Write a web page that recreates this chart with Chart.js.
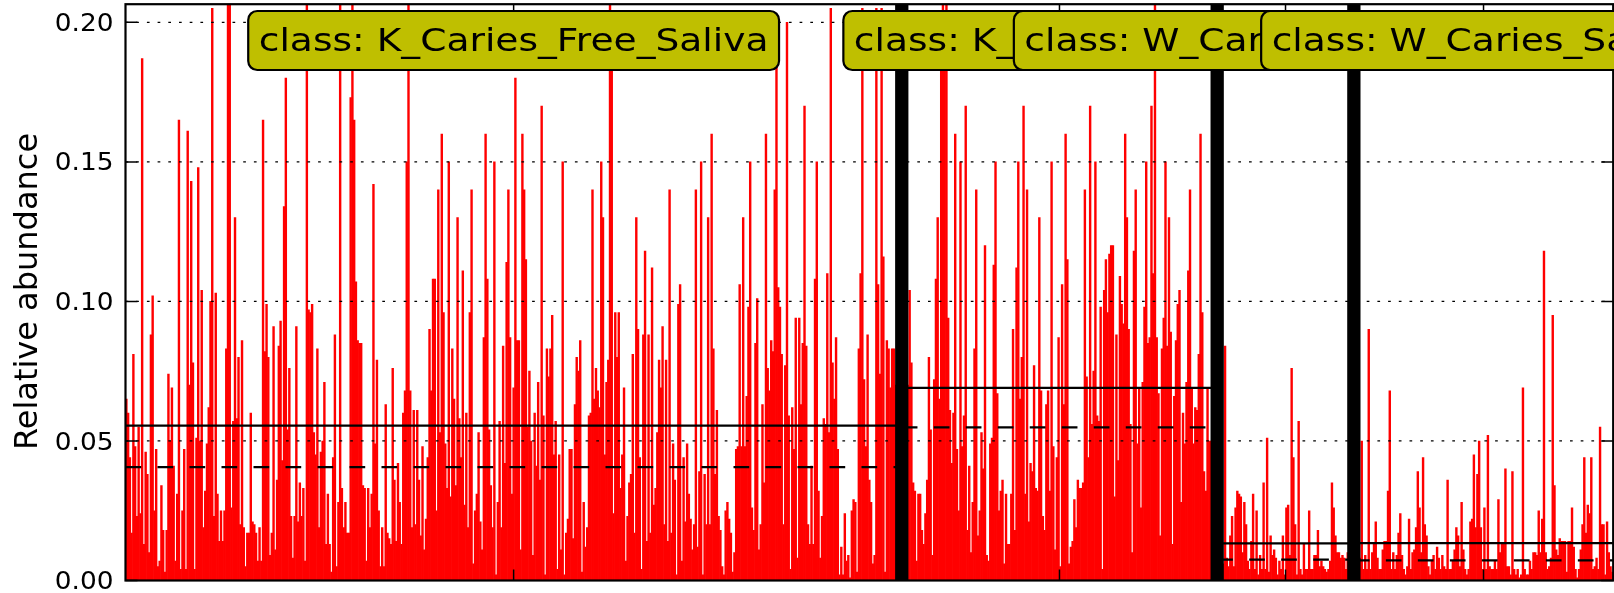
<!DOCTYPE html>
<html>
<head>
<meta charset="utf-8">
<script src="https://cdn.jsdelivr.net/npm/chart.js@4.4.0/dist/chart.umd.min.js"></script>
<style>
  html, body { margin: 0; padding: 0; background: #fff; }
  #wrap { width: 1614px; height: 593px; }
</style>
</head>
<body>
<div id="wrap"><canvas id="dataChart" width="1614" height="593"></canvas></div>
<script>
// class names, one box each
const classNames = ['K_Caries_Free_Saliva', 'K_Caries_Saliva', 'W_Caries_Free_Saliva', 'W_Caries_Saliva'];

// relative abundance per sample
const kCariesFreeSaliva = [
  .065,.060,.044,.017,.081,.048,.023,.055,.024,.187,
  .013,.046,.038,.010,.088,.102,.025,.047,.005,.007,
  .034,.018,.003,.018,.074,.050,.069,.041,.007,.031,
  .165,.004,.025,.047,.004,.161,.070,.143,.078,.004,
  .051,.148,.050,.104,.019,.032,.049,.062,.100,.205,
  .023,.103,.031,.014,.025,.014,.025,.083,.210,.210,
  .026,.057,.130,.058,.080,.020,.086,.019,.005,.017,
  .017,.060,.021,.020,.017,.007,.019,.007,.165,.082,
  .099,.080,.009,.017,.091,.011,.036,.084,.093,.043,
  .134,.180,.054,.076,.023,.008,.023,.091,.021,.035,
  .023,.033,.007,.210,.097,.096,.099,.053,.045,.083,
  .019,.046,.050,.071,.013,.031,.013,.003,.044,.088,
  .005,.028,.210,.033,.019,.028,.017,.017,.173,.210,
  .165,.107,.086,.085,.085,.034,.033,.007,.033,.019,
  .031,.142,.049,.079,.025,.005,.019,.005,.063,.017,
  .015,.013,.076,.036,.014,.042,.028,.013,.060,.068,
  .150,.210,.068,.019,.061,.020,
  .061,.036,.016,.048,.011,.022,.044,.090,.068,.108,
  .108,.025,.140,.053,.160,.096,.049,.033,.150,.030,
  .083,.065,.034,.130,.058,.044,.111,.027,.060,.019,
  .096,.140,.006,.025,.031,.053,.021,.011,.087,.160,
  .108,.054,.034,.019,.150,.002,.028,.057,.019,.084,
  .042,.114,.140,.087,.031,.069,.180,.086,.086,.011,
  .160,.140,.115,.055,.075,.050,.009,.060,.041,.071,
  .036,.170,.059,.002,.083,.073,.083,.095,.045,.057,
  .004,.045,.011,.150,.002,.017,.022,.047,.047,.015,
  .063,.080,.075,.086,.003,.028,.012,.019,.059,.060,
  .140,.065,.076,.068,.062,.150,.130,.045,.071,.079,
  .210,.190,.024,.096,.080,.096,.033,.045,.069,.007,
  .023,.035,.038,.081,.017,.130,.090,.044,.004,.088,
  .118,.014,.088,.017,.112,.027,.033,.053,.079,.069,
  .091,.020,.079,.014,.140,.017,.049,.036,.002,.099,
  .106,.007,.044,.021,.049,.031,.022,.011,.020,.140,
  .012,.039,.150,.002,.038,.020,.130,.020,.160,.083,
  .038,.061,.023,.018,.005,.002,.025,.028,.022,.017,
  .003,.010,.047,.048,.106,.048,.130,.048,.066,.098,
  .150,.026,.018,.085,.101,.011,.020,.063,.035,.160,
  .076,.068,.086,.082,.140,.185,.105,.098,.081,.020,
  .077,.200,.059,.004,.062,.047,.094,.008,.094,.063,
  .085,.170,.084,.020,.013,.041,.013,.108,.150,.032,
  .008,.023,.058,.056,.110,.053,.205,.078,.065,.087,
  .047,.002,.012,.002,.024,.007,.009,.001,.025,.029,
  .028,.003,.083,.110,.205,.072,.048,.088,.036,.028,
  .006,.009,.205,.106,.074,.205,.116,.003,.086,.083,
  .069,.083,.083,.070,.090,.050,.080
];
const kCariesSaliva = [
  .060,.080,.050,.070,
  .104,.078,.035,.032,.007,.031,.031,.018,.013,.024,
  .036,.080,.054,.009,.072,.108,.130,.065,.190,.210,
  .190,.210,.094,.061,.042,.060,.160,.047,.025,.150,
  .048,.059,.170,.018,.041,.010,.028,.083,.140,.016,
  .025,.053,.040,.120,.009,.007,.049,.051,.113,.150,
  .067,.025,.032,.036,.006,.031,.013,
  .013,.031,.090,.018,.112,.150,.065,.080,.170,.031,
  .140,.021,.042,.039,.077,.033,.032,.130,.068,.023,
  .018,.063,.068,.032,.150,.048,.011,.044,.087,.005,
  .106,.063,.160,.115,.006,.012,.014,.029,.019,.036,
  .033,.033,.035,.140,.073,.044,.170,.056,.075,.150,
  .059,.057,.098,.004,.104,.115,.096,.117,.120,.120,
  .030,.088,.043,.109,.099,.092,.160,.130,.090,.056,
  .010,.118,.140,.049,.069,.026,.071,.098,.150,.085,
  .087,.170,.110,.210,.087,.067,.016,.083,.094,.150,
  .084,.130,.089,.013,.066,.086,.099,.104,.028,.060,
  .049,.071,.111,.140,.069,.049,.062,.061,.081,.160,
  .096,.039,.032,.069,.050,
  .050,.070,.040,.060
];
const wCariesFreeSaliva = [
  .010,.004,.008,.006,
  .084,.008,.005,.016,.023,.005,.026,.032,.031,.030,
  .010,.028,.020,.007,.004,.014,.031,.004,.025,.002,
  .009,.004,.035,.004,.051,.003,.016,.009,.011,.008,
  .002,.007,.004,.016,.002,.026,.027,.009,.076,.044,
  .020,.002,.057,.004,.002,.013,.004,.004,.025,.004,
  .004,.009,.009,.018,.005,.007,.005,.004,.003,.004,
  .007,.035,.026,.016,.010,.010,.008,.009,.008,.004,
  .010,
  .006,.012,.004
];
const wCariesSaliva = [
  .006,.010,.004,.008,
  .050,.004,.009,.004,.090,.004,.010,.013,.021,.008,
  .004,.004,.011,.014,.014,.032,.068,.004,.010,.004,
  .009,.017,.024,.009,.004,.002,.005,.022,.004,.010,
  .011,.019,.039,.026,.010,.044,.020,.016,.005,.002,
  .007,.009,.004,.012,.008,.004,.009,.005,.004,.036,
  .004,.004,.007,.011,.019,.016,.005,.028,.011,.004,
  .002,.004,.021,.022,.045,.019,.038,.050,.019,.004,
  .026,.004,.052,.005,.004,.004,.007,.004,.029,.010,
  .013,.013,.040,.005,.005,.002,.039,.004,.002,.004,
  .001,.002,.069,.004,.002,.002,.007,.004,.010,.010,
  .009,.025,.010,.022,.118,.010,.004,.005,.008,.095,
  .034,.011,.009,.015,.014,.014,.014,.003,.014,.014,
  .026,.012,.004,.001,.004,.011,.020,.044,.017,.027,
  .024,.044,.004,.005,.008,.004,.055,.020,.020,.002,
  .021,.010,.005,.003
];

// per-class mean (solid) and median (dashed) lines
const classMeans = [0.0555, 0.0690, 0.0133, 0.0134];
const classMedians = [0.0406, 0.0549, 0.0075, 0.0072];

// y axis
const yTicks = [0, 0.05, 0.10, 0.15, 0.20];
const yTickLabels = ['0.00', '0.05', '0.10', '0.15', '0.20'];
const yTitle = 'Relative abundance';

const classData = [kCariesFreeSaliva, kCariesSaliva, wCariesFreeSaliva, wCariesSaliva];
const values = [].concat(...classData);
const classStarts = [];
const classEnds = [];
let pos = 0;
classData.forEach(arr => { classStarts.push(pos); pos += arr.length; classEnds.push(pos); });

const decorations = {
  id: 'decorations',
  afterDatasetsDraw(chart) {
    const { ctx, chartArea: a, scales: { x, y } } = chart;
    const edge = i => x.getPixelForValue(i - 0.5);
    ctx.save();
    ctx.strokeStyle = '#000';

    // dotted grid, drawn over the bars
    ctx.lineWidth = 1.2;
    ctx.setLineDash([2.7, 8]);
    yTicks.slice(1).forEach(t => {
      const py = y.getPixelForValue(t);
      ctx.beginPath(); ctx.moveTo(a.left, py); ctx.lineTo(a.right, py); ctx.stroke();
    });

    // mean and median per class
    ctx.lineWidth = 2.2;
    classStarts.forEach((s, c) => {
      const x0 = edge(s), x1 = edge(classEnds[c]);
      let py = y.getPixelForValue(classMeans[c]);
      ctx.setLineDash([]);
      ctx.beginPath(); ctx.moveTo(x0, py); ctx.lineTo(x1, py); ctx.stroke();
      py = y.getPixelForValue(classMedians[c]);
      ctx.setLineDash([15.7, 16.3]);
      ctx.lineDashOffset = 0;
      ctx.beginPath(); ctx.moveTo(x0, py); ctx.lineTo(x1, py); ctx.stroke();
    });
    ctx.setLineDash([]);

    // inward ticks
    ctx.lineWidth = 1.5;
    yTicks.forEach(t => {
      const py = y.getPixelForValue(t);
      ctx.beginPath();
      ctx.moveTo(a.left, py); ctx.lineTo(a.left + 12, py);
      ctx.moveTo(a.right, py); ctx.lineTo(a.right - 12, py);
      ctx.stroke();
    });
    classStarts.forEach((s, c) => {
      const px = (edge(s) + edge(classEnds[c])) / 2;
      ctx.beginPath(); ctx.moveTo(px, a.bottom); ctx.lineTo(px, a.bottom - 11); ctx.stroke();
      ctx.beginPath(); ctx.moveTo(px, a.top); ctx.lineTo(px, a.top + 11); ctx.stroke();
    });

    // thick class separators
    ctx.lineWidth = 13.3;
    classStarts.slice(1).forEach(s => {
      const px = edge(s);
      ctx.beginPath(); ctx.moveTo(px, a.top); ctx.lineTo(px, a.bottom); ctx.stroke();
    });

    // frame
    ctx.lineWidth = 2.2;
    ctx.strokeRect(a.left, a.top, a.right - a.left, a.bottom - a.top);
    ctx.restore();
  },
  afterDraw(chart) {
    const { ctx, chartArea: a, scales: { x, y } } = chart;
    const edge = i => x.getPixelForValue(i - 0.5);
    ctx.save();
    ctx.fillStyle = '#000';

    // tick labels
    ctx.font = '24px "DejaVu Sans"';
    ctx.textAlign = 'right';
    ctx.textBaseline = 'alphabetic';
    yTicks.forEach((t, i) => {
      ctx.save();
      ctx.translate(a.left - 12, y.getPixelForValue(t) + 8.6);
      ctx.scale(1.1, 1);
      ctx.fillText(yTickLabels[i], 0, 0);
      ctx.restore();
    });

    // axis title
    ctx.save();
    ctx.font = '32px "DejaVu Sans"';
    ctx.textAlign = 'center';
    ctx.translate(37, 291.5);
    ctx.rotate(-Math.PI / 2);
    ctx.fillText(yTitle, 0, 0);
    ctx.restore();

    // class label boxes
    ctx.font = '32px "DejaVu Sans"';
    ctx.textAlign = 'center';
    const sx = 1.175;
    classNames.forEach((name, c) => {
      const txt = 'class: ' + name;
      const cx = (edge(classStarts[c]) + edge(classEnds[c])) / 2;
      const bw = ctx.measureText(txt).width * sx + 21;
      ctx.beginPath();
      ctx.roundRect(cx - bw / 2, 11, bw, 59, 9);
      ctx.fillStyle = '#bfbf00';
      ctx.fill();
      ctx.lineWidth = 2.2;
      ctx.strokeStyle = '#000';
      ctx.stroke();
      ctx.save();
      ctx.translate(cx, 50.5);
      ctx.scale(sx, 1);
      ctx.fillStyle = '#000';
      ctx.fillText(txt, 0, 0);
      ctx.restore();
    });
    ctx.restore();
  }
};

function createGraph() {
  const ctx = document.getElementById('dataChart').getContext('2d');
  new Chart(ctx, {
    type: 'bar',
    data: {
      labels: values.map((_, i) => String(i)),
      datasets: [{
        data: values,
        backgroundColor: '#ff0000',
        borderWidth: 0,
        barPercentage: 1,
        categoryPercentage: 1
      }]
    },
    options: {
      responsive: false,
      animation: false,
      devicePixelRatio: 1,
      layout: { padding: { left: 125.5, top: 4.2, right: 0.8, bottom: 12.5 } },
      scales: {
        x: { display: false, offset: true },
        y: { display: false, min: 0, max: 0.2065 }
      },
      plugins: {
        legend: { display: false },
        tooltip: { enabled: false }
      }
    },
    plugins: [decorations]
  });
}

window.onload = createGraph;
</script>
</body>
</html>
